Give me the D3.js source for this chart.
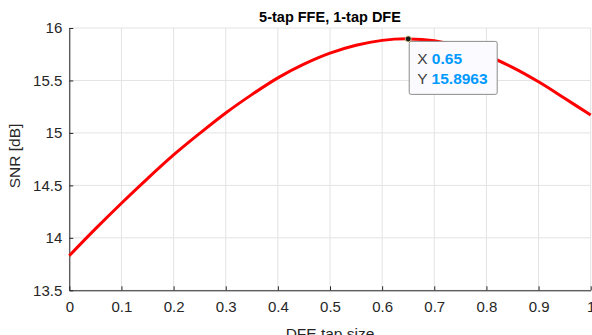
<!DOCTYPE html>
<html>
<head>
<meta charset="utf-8">
<script src="https://cdn.jsdelivr.net/npm/d3@7"></script>
<style>
  html, body { margin: 0; padding: 0; background: #fff; }
  svg { display: block; font-family: "Liberation Sans", Arial, Helvetica, sans-serif; }
</style>
</head>
<body>
<svg id="chart" width="592" height="335"></svg>
<script>
// DFE tap size sweep and resulting SNR (dB)
const tapSize = [0, 0.05, 0.1, 0.15, 0.2, 0.25, 0.3, 0.35, 0.4, 0.45, 0.5,
                 0.55, 0.6, 0.65, 0.7, 0.75, 0.8, 0.85, 0.9, 0.95, 1.0];
const snrDb   = [13.83, 14.085, 14.33, 14.565, 14.79, 14.995, 15.19, 15.365, 15.525, 15.655, 15.76,
                 15.835, 15.882, 15.8963, 15.878, 15.82, 15.738, 15.625, 15.487, 15.33, 15.17];
const xTicks = [0, 0.1, 0.2, 0.3, 0.4, 0.5, 0.6, 0.7, 0.8, 0.9, 1];
const yTicks = [13.5, 14, 14.5, 15, 15.5, 16];
const tipX = 0.65, tipY = 15.8963;

const svg = d3.select("#chart");
const plotL = 69.3, plotR = 590.7, plotT = 28, plotB = 290.3;

const x = d3.scaleLinear().domain([0, 1]).range([plotL, plotR]);
const y = d3.scaleLinear().domain([13.5, 16]).range([plotB, plotT]);

const axisColor = "#262626";

// grid
const grid = svg.append("g");
grid.selectAll(".gx").data(xTicks).join("line")
  .attr("x1", d => x(d)).attr("x2", d => x(d))
  .attr("y1", plotT).attr("y2", plotB)
  .attr("stroke", "#e3e3e3").attr("stroke-width", 1);
grid.selectAll(".gy").data(yTicks).join("line")
  .attr("x1", plotL).attr("x2", plotR)
  .attr("y1", d => y(d)).attr("y2", d => y(d))
  .attr("stroke", "#e3e3e3").attr("stroke-width", 1);

// axes with inward ticks
const xAxis = svg.append("g").attr("transform", `translate(0,${plotB})`)
  .call(d3.axisBottom(x).tickValues(xTicks).tickSizeInner(-4).tickSizeOuter(0)
        .tickPadding(11).tickFormat(d => d3.format("")(d)));
const yAxis = svg.append("g").attr("transform", `translate(${plotL},0)`)
  .call(d3.axisLeft(y).tickValues(yTicks).tickSizeInner(-4).tickSizeOuter(0)
        .tickPadding(7).tickFormat(d => d3.format("")(d)));
[xAxis, yAxis].forEach(g => {
  g.select(".domain").attr("stroke", axisColor).attr("stroke-width", 1);
  g.selectAll(".tick line").attr("stroke", axisColor);
  g.selectAll(".tick text").attr("fill", axisColor)
    .attr("font-size", 15).attr("font-family", "Liberation Sans, Arial, sans-serif");
});

// curve
const line = d3.line().x((d, i) => x(tapSize[i])).y(d => y(d)).curve(d3.curveCatmullRom);
svg.append("path").datum(snrDb)
  .attr("d", line).attr("fill", "none")
  .attr("stroke", "#ff0000").attr("stroke-width", 3)
  .attr("stroke-linejoin", "round");

// title and labels
svg.append("text").attr("x", (plotL + plotR) / 2).attr("y", 21.5)
  .attr("text-anchor", "middle").attr("font-weight", "bold")
  .attr("font-size", 14.5).attr("fill", "#000").text("5-tap FFE, 1-tap DFE");
svg.append("text").attr("x", (plotL + plotR) / 2).attr("y", 338.5)
  .attr("text-anchor", "middle").attr("font-size", 15.5)
  .attr("fill", axisColor).text("DFE tap size");
svg.append("text")
  .attr("transform", `translate(20,156) rotate(-90)`)
  .attr("text-anchor", "middle").attr("font-size", 15.5)
  .attr("fill", axisColor).text("SNR [dB]");

// data tip
const px = x(tipX), py = y(tipY);
const tip = svg.append("g");
tip.append("rect")
  .attr("x", px + 1).attr("y", py + 2.5)
  .attr("width", 88).attr("height", 53).attr("rx", 2)
  .attr("fill", "#fafaff").attr("stroke", "#8c8c8c").attr("stroke-width", 1);
const rows = [["X", d3.format("")(tipX)], ["Y", d3.format("")(tipY)]];
rows.forEach((r, i) => {
  const t = tip.append("text").attr("x", px + 9).attr("y", py + 25 + i * 20)
    .attr("font-size", 15.5);
  t.append("tspan").attr("fill", "#404040").text(r[0] + " ");
  t.append("tspan").attr("fill", "#0099ff").attr("font-weight", "bold").text(r[1]);
});
svg.append("circle").attr("cx", px).attr("cy", py).attr("r", 3)
  .attr("fill", "#1a1a1a").attr("stroke", "#e8e0a0").attr("stroke-width", 0.8);
</script>
</body>
</html>
